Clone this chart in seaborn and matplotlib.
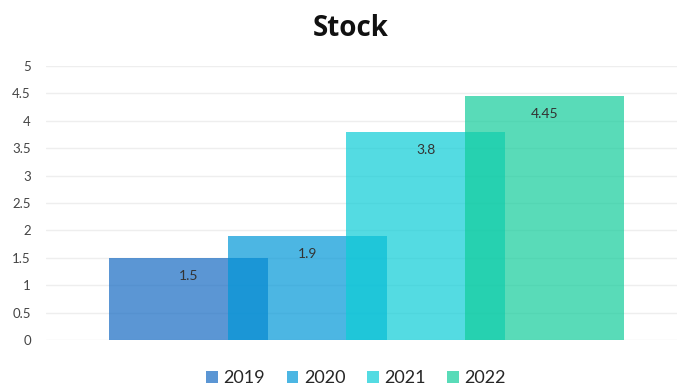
import matplotlib
matplotlib.use("Agg")
import matplotlib.pyplot as plt
import seaborn as sns
import pandas as pd

years = ["2019", "2020", "2021", "2022"]
stock = [1.5, 1.9, 3.8, 4.45]
colors = ["#156AC3", "#0097D8", "#0CCDD6", "#13CD9B"]
y_ticks = [0, 0.5, 1, 1.5, 2, 2.5, 3, 3.5, 4, 4.5, 5]
tick_labels = ["0", "0.5", "1", "1.5", "2", "2.5", "3", "3.5", "4", "4.5", "5"]

df = pd.DataFrame({"year": years, "stock": stock})

sns.set_theme(style="white")
plt.rcParams["font.family"] = ["Lato", "DejaVu Sans"]

fig = plt.figure(figsize=(6.77, 3.87), dpi=100)
ax = fig.add_axes([0.068, 0.1214, 0.932, 0.7081])

sns.barplot(data=df, x="year", y="stock", hue="year", palette=colors,
            saturation=1, width=1.34, alpha=0.7, dodge=False, legend=True,
            ax=ax, linewidth=0)

for i, v in enumerate(stock):
    ax.text(i, v - 0.33, f"{v:g}", ha="center", va="center",
            fontsize=10, color="#333333")

ax.set_xlim(-1.2, 4.115)
ax.set_ylim(0, 5)
ax.set_yticks(y_ticks)
ax.set_yticklabels(tick_labels, fontsize=9.5, color="#444444")
ax.set_xticks([])
ax.set_xlabel("")
ax.set_ylabel("")
ax.yaxis.grid(True, color="#eeeeee", linewidth=1)
ax.set_axisbelow(True)
ax.tick_params(axis="y", length=0, pad=11)
for s in ax.spines.values():
    s.set_visible(False)

sns.move_legend(ax, "lower center", bbox_to_anchor=(356 / 677, -1 / 387),
                bbox_transform=fig.transFigure, ncol=4, frameon=False,
                title=None, fontsize=13, handlelength=0.65, handleheight=0.65,
                handletextpad=0.3, columnspacing=1.2, borderaxespad=0,
                borderpad=0.1)

fig.text(351 / 677, 1 - 29 / 387, "Stock", ha="center", va="center",
         fontsize=20, fontweight="bold", color="#111111",
         family=["Open Sans", "DejaVu Sans"])

fig.savefig("out.png", dpi=100)
